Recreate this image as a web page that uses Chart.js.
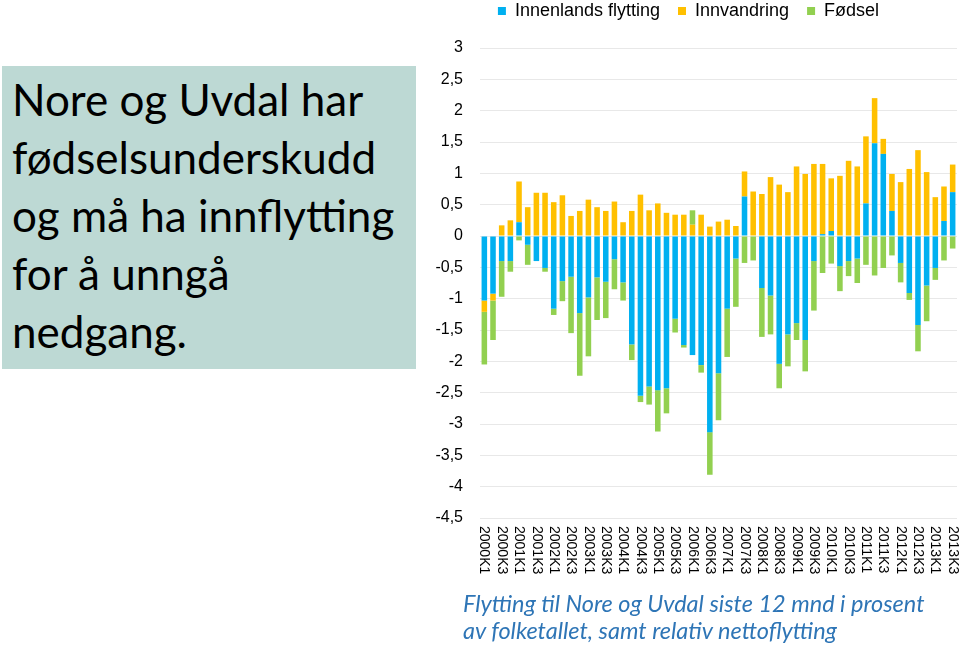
<!DOCTYPE html>
<html>
<head>
<meta charset="utf-8">
<script src="https://cdn.jsdelivr.net/npm/chart.js@4.4.1/dist/chart.umd.min.js"></script>
<style>
  body { margin: 0; background: #fff; }
  #wrap { position: relative; width: 960px; height: 647px; overflow: hidden; }
  #chart { position: absolute; left: 0; top: 0; }
  .box {
    position: absolute; left: 2px; top: 66px; width: 414px; height: 303px;
    background: #bdd9d4; box-sizing: border-box; padding: 4px 0 0 10px;
    font-family: Lato, "Open Sans", sans-serif; font-size: 44px; line-height: 58px; color: #000;
    white-space: nowrap;
  }
  .caption {
    position: absolute; left: 463px; top: 590px;
    font-family: Lato, "Open Sans", sans-serif; font-style: italic; font-size: 23.5px; line-height: 27px;
    color: #2e75b6; white-space: nowrap;
  }
</style>
</head>
<body>
<div id="wrap">
  <canvas id="chart" width="960" height="647"></canvas>
  <div class="box">Nore og Uvdal har<br>fødselsunderskudd<br>og må ha innflytting<br>for å unngå<br>nedgang.</div>
  <div class="caption">Flytting til Nore og Uvdal siste 12 mnd i prosent<br>av folketallet, samt relativ nettoflytting</div>
</div>
<script>
// kvartaler 2000K1 - 2013K3
const categories = [
  '2000K1','2000K2','2000K3','2000K4','2001K1','2001K2','2001K3','2001K4',
  '2002K1','2002K2','2002K3','2002K4','2003K1','2003K2','2003K3','2003K4',
  '2004K1','2004K2','2004K3','2004K4','2005K1','2005K2','2005K3','2005K4',
  '2006K1','2006K2','2006K3','2006K4','2007K1','2007K2','2007K3','2007K4',
  '2008K1','2008K2','2008K3','2008K4','2009K1','2009K2','2009K3','2009K4',
  '2010K1','2010K2','2010K3','2010K4','2011K1','2011K2','2011K3','2011K4',
  '2012K1','2012K2','2012K3','2012K4','2013K1','2013K2','2013K3'
];

const innenlands = [
  -1.03, -0.92, -0.40, -0.40, 0.22, -0.14, -0.40, -0.51,
  -1.16, -0.72, -0.65, -1.23, -0.98, -0.66, -0.73, -0.37,
  -0.74, -1.73, -2.55, -2.40, -2.46, -2.43, -1.32, -1.74,
  -1.90, -2.06, -3.13, -2.19, -1.16, -0.36, 0.63, 0,
  -0.83, -0.95, -2.04, -1.57, -1.39, -1.66, -0.40, 0.03,
  0.08, -0.48, -0.40, -0.36, 0.52, 1.48, 1.31, 0.40,
  -0.43, -0.91, -1.42, -0.79, -0.51, 0.24, 0.70
];

const innvandring = [
  -0.18, -0.11, 0.17, 0.25, 0.65, 0.46, 0.69, 0.69,
  0.54, 0.65, 0.32, 0.40, 0.58, 0.46, 0.40, 0.55,
  0.22, 0.40, 0.66, 0.41, 0.52, 0.37, 0.34, 0.34,
  0.18, 0.34, 0.15, 0.23, 0.26, 0.16, 0.40, 0.71,
  0.67, 0.94, 0.82, 0.70, 1.11, 0.99, 1.15, 1.12,
  0.84, 0.96, 1.20, 1.11, 1.07, 0.72, 0.24, 0.59,
  0.86, 1.07, 1.37, 1.02, 0.62, 0.55, 0.44
];

const fodsel = [
  -0.84, -0.63, -0.57, -0.17, -0.07, -0.32, 0, -0.06,
  -0.10, -0.32, -0.90, -1.00, -0.94, -0.68, -0.58, -0.48,
  -0.29, -0.25, -0.10, -0.29, -0.66, -0.40, -0.22, -0.04,
  0.23, -0.12, -0.68, -0.75, -0.77, -0.77, -0.43, -0.39,
  -0.78, -0.62, -0.39, -0.51, -0.27, -0.50, -0.79, -0.59,
  -0.44, -0.40, -0.24, -0.39, -0.46, -0.63, -0.51, -0.31,
  -0.31, -0.11, -0.42, -0.57, -0.19, -0.39, -0.20
];

// x-etiketter leses ovenfra og ned, så de tegnes selv
const xLabels = {
  id: 'xLabels',
  afterDraw(chart) {
    const ctx = chart.ctx;
    const x = chart.scales.x;
    ctx.save();
    ctx.font = '14px Arial, "Liberation Sans"';
    ctx.fillStyle = '#000';
    ctx.textAlign = 'left';
    ctx.textBaseline = 'middle';
    categories.forEach((c, i) => {
      if (i % 2) return;
      ctx.save();
      ctx.translate(x.getPixelForValue(i), chart.chartArea.bottom + 8);
      ctx.rotate(Math.PI / 2);
      ctx.fillText(c, 0, 0);
      ctx.restore();
    });
    ctx.restore();
  }
};

const legendGap = {
  id: 'legendGap',
  beforeInit(chart) {
    const fit = chart.legend.fit;
    chart.legend.fit = function () {
      fit.bind(chart.legend)();
      this.height += 18;
    };
  }
};

const ctx = document.getElementById('chart').getContext('2d');
new Chart(ctx, {
  type: 'bar',
  data: {
    labels: categories,
    datasets: [
      { label: 'Innenlands flytting', data: innenlands, backgroundColor: '#00b0f0' },
      { label: 'Innvandring', data: innvandring, backgroundColor: '#ffc000' },
      { label: 'Fødsel', data: fodsel, backgroundColor: '#92d050' }
    ]
  },
  plugins: [legendGap, xLabels],
  options: {
    responsive: false,
    animation: false,
    layout: { padding: { left: 420, right: 3, top: -16, bottom: 0 } },
    datasets: { bar: { barPercentage: 0.64, categoryPercentage: 1 } },
    plugins: {
      legend: {
        position: 'top',
        labels: {
          boxWidth: 8, boxHeight: 8, padding: 18, color: '#000',
          font: { family: 'Arial, "Liberation Sans"', size: 18 }
        }
      },
      tooltip: { enabled: false }
    },
    scales: {
      x: {
        stacked: true,
        grid: { display: false },
        border: { display: false },
        ticks: { display: false },
        afterFit(scale) { scale.height = 129; }
      },
      y: {
        stacked: true,
        min: -4.5,
        max: 3,
        grid: { color: '#e8e8e8', drawTicks: false },
        border: { display: false },
        ticks: {
          stepSize: 0.5,
          padding: 17,
          color: '#000',
          font: { family: 'Arial, "Liberation Sans"', size: 16 },
          callback: v => String(v).replace('.', ',')
        },
        afterFit(scale) { scale.width = 60; }
      }
    }
  }
});
</script>
</body>
</html>
